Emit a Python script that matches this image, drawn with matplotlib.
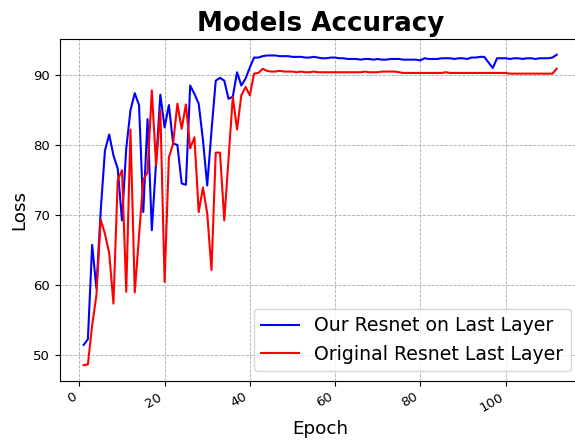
import numpy as np
import matplotlib
matplotlib.use("Agg")
import matplotlib.pyplot as plt

# accuracy per epoch
ours = [51.4, 52.2, 65.7, 59.5, 70.5, 79.2, 81.5, 78.5, 76.6, 69.2,
        79.5, 85.0, 87.4, 85.7, 70.4, 83.7, 67.8, 77.5, 87.2, 82.5,
        85.7, 80.2, 80.0, 74.5, 74.3, 88.5, 87.3, 85.9, 80.7, 74.2,
        82.0, 89.2, 89.6, 89.2, 86.6, 86.9, 90.4, 88.5, 89.5, 91.1,
        92.5, 92.5, 92.7, 92.8, 92.8, 92.8, 92.7, 92.7, 92.7, 92.6,
        92.6, 92.6, 92.5, 92.5, 92.6, 92.5, 92.4, 92.4, 92.5, 92.5,
        92.4, 92.4, 92.3, 92.3, 92.3, 92.2, 92.3, 92.3, 92.2, 92.3,
        92.2, 92.2, 92.3, 92.3, 92.3, 92.2, 92.2, 92.2, 92.2, 92.1,
        92.4, 92.3, 92.3, 92.3, 92.4, 92.4, 92.4, 92.3, 92.4, 92.4,
        92.3, 92.5, 92.5, 92.6, 92.6, 91.8, 91.0, 92.4, 92.4, 92.4,
        92.3, 92.4, 92.4, 92.3, 92.4, 92.4, 92.3, 92.4, 92.4, 92.4,
        92.5, 92.9]

original = [48.5, 48.6, 54.2, 58.5, 69.3, 67.3, 64.5, 57.3, 75.0, 76.4,
            59.0, 82.2, 58.9, 67.0, 75.0, 76.1, 87.8, 77.1, 85.0, 60.4,
            78.2, 80.2, 85.9, 82.3, 85.8, 79.5, 81.1, 70.4, 73.9, 70.2,
            62.1, 78.9, 78.9, 69.2, 78.0, 86.9, 82.2, 87.1, 88.3, 87.1,
            90.2, 90.3, 90.9, 90.6, 90.5, 90.5, 90.6, 90.5, 90.5, 90.5,
            90.4, 90.5, 90.4, 90.4, 90.5, 90.4, 90.4, 90.4, 90.4, 90.4,
            90.4, 90.4, 90.4, 90.4, 90.4, 90.4, 90.5, 90.4, 90.4, 90.4,
            90.5, 90.5, 90.5, 90.5, 90.4, 90.3, 90.3, 90.3, 90.3, 90.3,
            90.3, 90.3, 90.3, 90.3, 90.3, 90.4, 90.3, 90.3, 90.3, 90.3,
            90.3, 90.3, 90.3, 90.3, 90.3, 90.3, 90.3, 90.3, 90.3, 90.3,
            90.2, 90.2, 90.2, 90.2, 90.2, 90.2, 90.2, 90.2, 90.2, 90.2,
            90.2, 90.9]

epochs = np.arange(1, len(ours) + 1)

fig = plt.figure(figsize=(5.75, 4.44), dpi=100)
# right spine falls just outside the canvas, as in the reference
ax = fig.add_axes([0.1043, 0.1426, 0.905, 0.769])

ax.plot(epochs, ours, color="blue", lw=1.5, label="Our Resnet on Last Layer")
ax.plot(epochs, original, color="red", lw=1.5, label="Original Resnet Last Layer")

ax.set_title("Models Accuracy", fontsize=18.8, fontweight="bold")
ax.set_xlabel("Epoch", fontsize=13.2)
ax.set_ylabel("Loss", fontsize=13.2)
ax.grid(True, linestyle="--", color="#aaaaaa", linewidth=0.6)
ax.tick_params(labelsize=9.5)
for lbl in ax.get_xticklabels():
    lbl.set_rotation(30)
    lbl.set_ha("right")
ax.legend(loc="lower right", fontsize=13.6)

fig.savefig("out.png", dpi=100)
